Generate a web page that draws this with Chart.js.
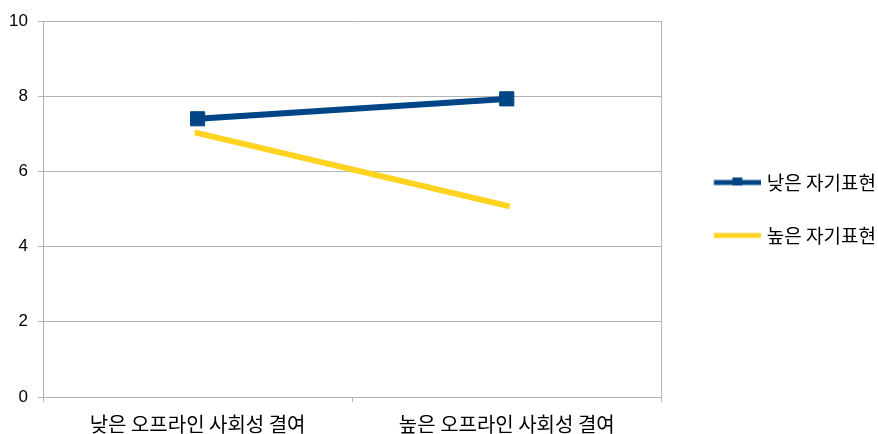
<!DOCTYPE html>
<html>
<head>
<meta charset="utf-8">
<script src="https://cdn.jsdelivr.net/npm/chart.js@4/dist/chart.umd.min.js"></script>
<style>
html,body{margin:0;padding:0;background:#fff;}
canvas{display:block;}
</style>
</head>
<body>
<canvas id="c" width="878" height="434"></canvas>
<script>
const categories = ['낮은 오프라인 사회성 결여', '높은 오프라인 사회성 결여'];
const seriesNames = ['낮은 자기표현', '높은 자기표현'];
const lowSelfExpression = [7.40, 7.93];
const highSelfExpression = [7.02, 5.09];
const yTicks = [0, 2, 4, 6, 8, 10];

const BLUE = '#004586';
const YELLOW = '#ffd320';
const GRID = '#b3b3b3';
const NUM_FONT = "'Liberation Sans', Arial, sans-serif";
const KR_FONT = "'Noto Sans CJK KR', sans-serif";

function legendImage(color, marker) {
  const c = document.createElement('canvas');
  c.width = 52; c.height = 14;
  const x = c.getContext('2d');
  x.fillStyle = color;
  x.fillRect(4.5, 4.5, 47.5, 5);
  if (marker) x.fillRect(23, 2, 10, 8);
  return c;
}
const legendImgs = [legendImage(BLUE, true), legendImage(YELLOW, false)];

const legendCenter = {
  id: 'legendCenter',
  afterLayout(chart) {
    const lg = chart.legend;
    if (!lg) return;
    lg.top = chart.chartArea.top;
    lg.bottom = chart.chartArea.bottom;
    lg.height = lg.bottom - lg.top;
  }
};

new Chart(document.getElementById('c'), {
  type: 'line',
  data: {
    labels: categories,
    datasets: [
      {
        label: seriesNames[0],
        data: lowSelfExpression,
        borderColor: BLUE,
        backgroundColor: BLUE,
        borderWidth: 6,
        borderCapStyle: 'square',
        pointStyle: 'rect',
        pointRadius: 10,
        pointBorderWidth: 1,
        pointBackgroundColor: BLUE,
        pointBorderColor: BLUE,
        tension: 0,
        yAxisID: 'y'
      },
      {
        label: seriesNames[1],
        data: highSelfExpression,
        borderColor: YELLOW,
        backgroundColor: YELLOW,
        borderWidth: 6,
        borderCapStyle: 'square',
        pointRadius: 0,
        pointHoverRadius: 0,
        tension: 0,
        yAxisID: 'y'
      }
    ]
  },
  options: {
    responsive: false,
    animation: false,
    devicePixelRatio: 1,
    layout: { padding: { top: 21, right: -8, left: 0, bottom: 0 } },
    plugins: {
      tooltip: { enabled: false },
      legend: {
        position: 'right',
        maxWidth: 400,
        labels: {
          usePointStyle: true,
          pointStyleWidth: 44,
          padding: 34,
          color: '#000',
          font: { family: KR_FONT, size: 19 },
          generateLabels(chart) {
            const items = Chart.defaults.plugins.legend.labels.generateLabels(chart);
            items.forEach((it, i) => { it.pointStyle = legendImgs[i]; });
            return items;
          }
        }
      }
    },
    scales: {
      x: {
        offset: true,
        grid: { offset: true, drawOnChartArea: false, drawTicks: true, tickLength: 5, tickColor: GRID, color: GRID },
        border: { display: true, color: GRID },
        ticks: { color: '#000', font: { family: KR_FONT, size: 20 }, padding: 10, maxRotation: 0 },
        afterFit(s) { s.height = 37; }
      },
      y: {
        min: 0, max: 10,
        afterBuildTicks(s) { s.ticks = yTicks.map(v => ({ value: v })); },
        grid: { color: GRID, tickLength: 5, tickColor: GRID },
        border: { display: true, color: GRID },
        ticks: { color: '#000', font: { family: NUM_FONT, size: 17 }, padding: 10 },
        afterFit(s) { s.width = 43; }
      },
      y2: {
        position: 'right',
        min: 0, max: 10,
        grid: { drawOnChartArea: false, drawTicks: false, tickLength: 0 },
        border: { display: true, color: GRID },
        ticks: { display: false },
        afterFit(s) { s.width = 18; }
      }
    }
  },
  plugins: [legendCenter]
});
</script>
</body>
</html>
